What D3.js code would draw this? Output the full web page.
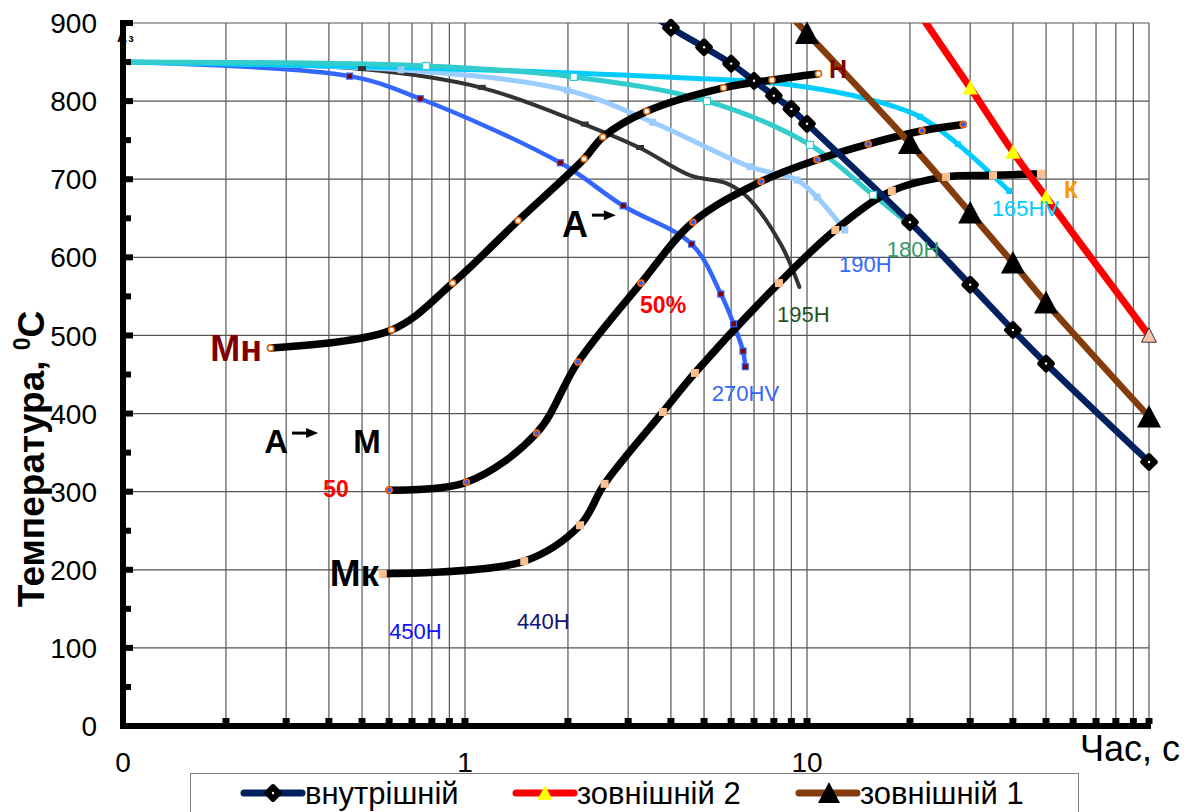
<!DOCTYPE html>
<html><head><meta charset="utf-8">
<script src="https://cdn.jsdelivr.net/npm/d3@7/dist/d3.min.js"></script>
<style>
body{margin:0;background:#fff}
svg{display:block;font-family:Arial,"Liberation Sans",sans-serif}
</style>
</head><body>
<svg id="chart" width="1189" height="812"></svg>
<script>
// ---------------- DATA ----------------
const xTickValues = [0.1, 1, 10];
const xTickText = ["0", "1", "10"];
const yTickValues = [0, 100, 200, 300, 400, 500, 600, 700, 800, 900];
const legendNames = ["внутрішній", "зовнішній 2", "зовнішній 1"];

// surface / inner cooling curves (legend series)
const innerTime = [3.5, 4, 5, 6, 7, 8, 9, 10, 20, 30, 40, 50, 100];
const innerTemp = [912, 894, 869, 848, 826, 807, 790, 771, 645, 565, 507, 464, 338];
const outer2Time = [20, 30, 40, 50, 100];
const outer2Temp = [930, 817, 735, 677, 500];
const outer1Time = [8, 10, 20, 30, 40, 50, 100];
const outer1Temp = [932, 887, 746, 657, 593, 542, 396];

// CCT cooling curves
const c270Time = [0.1, 0.46, 0.74, 1.9, 2.9, 4.6, 5.6, 6.1, 6.5, 6.6];
const c270Temp = [850, 832, 803, 721, 666, 617, 553, 515, 480, 460];
const c195Time = [0.1, 0.5, 1.12, 2.24, 3.25, 4.55, 5.8, 6.7, 8.4, 9.5];
const c195Temp = [850, 841, 817, 770, 740, 705, 695, 677, 616, 562];
const c190Time = [0.1, 0.65, 1.99, 3.54, 6.81, 9.35, 10.7, 12.9];
const c190Temp = [850, 840, 814, 773, 716, 699, 677, 635];
const c180Time = [0.1, 0.77, 2.08, 5.1, 10.2, 15.6, 19.6];
const c180Temp = [850, 845, 831, 800, 744, 680, 645];
const c165Time = [0.1, 0.65, 4.25, 8.9, 15.6, 21.4, 27.6, 39];
const c165Temp = [850, 843, 830, 821, 801, 780, 745, 685];

// transformation curves
const startTime = [0.27, 0.61, 0.92, 1.43, 2.23, 2.53, 3.4, 5.7, 7.9, 10.8];
const startTemp = [484, 507, 567, 647, 726, 754, 787, 817, 827, 835];
const halfTime = [0.6, 1.01, 1.62, 2.14, 3.27, 4.64, 7.34, 10.7, 15.1, 21.7, 28.6];
const halfTemp = [302, 312, 375, 466, 567, 645, 697, 725, 745, 762, 770];
const endTime = [0.575, 1.49, 2.17, 2.56, 3.79, 4.7, 8.28, 12.1, 17.7, 25.5, 35, 48.3];
const endTemp = [195, 211, 257, 310, 402, 452, 567, 635, 685, 703, 705, 707];

// ---------------- CHART ----------------
const svg = d3.select("#chart");
const W = 1189, H = 812;
const x = d3.scaleLog().domain([0.1, 100]).range([123, 1149]);
const y = d3.scaleLinear().domain([0, 900]).range([726, 23]);
const zip = (a, b) => a.map((v, i) => [v, b[i]]);

svg.append("rect").attr("width", W).attr("height", H).attr("fill", "#fff");

svg.append("defs").append("clipPath").attr("id", "clip")
  .append("rect").attr("x", 0).attr("y", y(900)).attr("width", W).attr("height", H);

// small label partly hidden by axis
const a3 = svg.append("text").attr("x", x(0.1) - 6).attr("y", y(900) + 19)
  .attr("font-size", 14).attr("font-weight", "bold").attr("fill", "#000");
a3.append("tspan").text("А");
a3.append("tspan").attr("font-size", 11).attr("dy", 0).attr("dx", 1).text("з");

// grid
const grid = svg.append("g");
const xGrid = x.ticks();
grid.selectAll(".vg").data(xGrid.filter(d => d > 0.1)).join("line")
  .attr("x1", d => x(d)).attr("x2", d => x(d))
  .attr("y1", y(900)).attr("y2", y(0))
  .attr("stroke", "#555").attr("stroke-width", 1.2);
grid.selectAll(".hg").data(yTickValues.filter(d => d > 0)).join("line")
  .attr("x1", x(0.1)).attr("x2", x(100))
  .attr("y1", d => y(d)).attr("y2", d => y(d))
  .attr("stroke", "#555").attr("stroke-width", 1.2);

// line generator
const lineGen = d3.line().x(d => x(d[0])).y(d => y(d[1])).curve(d3.curveCatmullRom.alpha(0.5));
const plot = svg.append("g").attr("clip-path", "url(#clip)");
function drawLine(t, v, color, w) {
  plot.append("path").datum(zip(t, v)).attr("d", lineGen)
    .attr("fill", "none").attr("stroke", color).attr("stroke-width", w)
    .attr("stroke-linejoin", "round").attr("stroke-linecap", "round");
}
const mk = svg.append("g");
function squares(t, v, fill, stroke, s, skipFirst) {
  const pts = zip(t, v).slice(skipFirst ? 1 : 0);
  mk.append("g").selectAll("rect").data(pts).join("rect")
    .attr("x", d => x(d[0]) - s / 2).attr("y", d => y(d[1]) - s / 2)
    .attr("width", s).attr("height", s)
    .attr("fill", fill).attr("stroke", stroke || "none").attr("stroke-width", 1.2);
}
function circles(t, v, fill, stroke, r) {
  mk.append("g").selectAll("circle").data(zip(t, v)).join("circle")
    .attr("cx", d => x(d[0])).attr("cy", d => y(d[1])).attr("r", r)
    .attr("fill", fill).attr("stroke", stroke).attr("stroke-width", 1.6);
}

// cooling curves
drawLine(c270Time, c270Temp, "#3366FF", 4.5);
drawLine(c195Time, c195Temp, "#333333", 4);
drawLine(c190Time, c190Temp, "#99CCFF", 5);
drawLine(c165Time, c165Temp, "#00CCFF", 5);
drawLine(c180Time, c180Temp, "#33CCCC", 5);

squares(c270Time, c270Temp, "#800000", "#3366FF", 6, true);
mk.append("g").selectAll("rect").data(zip(c195Time, c195Temp).slice(1, 5)).join("rect")
  .attr("x", d => x(d[0]) - 4).attr("y", d => y(d[1]) - 3).attr("width", 8).attr("height", 5)
  .attr("fill", "#333");
squares(c190Time, c190Temp, "#99CCFF", null, 7, true);
squares(c180Time, c180Temp, "#fff", "#33CCCC", 7, true);
squares(c165Time.slice(5), c165Temp.slice(5), "#00CCFF", null, 6, false);

// transformation curves
drawLine(startTime, startTemp, "#000", 7.5);
drawLine(halfTime, halfTemp, "#000", 7.5);
drawLine(endTime, endTemp, "#000", 7.5);
circles(startTime, startTemp, "#fff", "#E46C0A", 3);
circles(halfTime, halfTemp, "#2F5DFF", "#FF6600", 3);
squares(endTime, endTemp, "#FAC090", null, 8, false);

// legend series
drawLine(innerTime, innerTemp, "#002060", 6.5);
drawLine(outer1Time, outer1Temp, "#843C0C", 6.5);
drawLine(outer2Time, outer2Temp, "#FF0000", 7);

const diamond = (g, cx, cy) => {
  g.append("rect").attr("x", cx - 7).attr("y", cy - 7).attr("width", 14).attr("height", 14)
    .attr("rx", 2.5).attr("fill", "#000").attr("transform", `rotate(45 ${cx} ${cy})`);
  g.append("circle").attr("cx", cx).attr("cy", cy).attr("r", 1.2).attr("fill", "#fff");
};
const tri = (g, cx, cy, s, fill, stroke) => {
  const h = s * 0.9;
  g.append("path").attr("d", `M${cx},${cy - h / 2 - 1}L${cx + s / 2},${cy + h / 2}L${cx - s / 2},${cy + h / 2}Z`)
    .attr("fill", fill).attr("stroke", stroke || "none").attr("stroke-width", 1);
};
const onChart = d => d[1] <= 900;
zip(innerTime, innerTemp).filter(onChart).forEach(d => diamond(mk, x(d[0]), y(d[1])));
zip(outer1Time, outer1Temp).filter(onChart).forEach(d => tri(mk, x(d[0]), y(d[1]), 24, "#000"));
zip(outer2Time, outer2Temp).filter(onChart).forEach((d, i, arr) =>
  tri(mk, x(d[0]), y(d[1]), 15, i === arr.length - 1 ? "#F8C0A8" : "#FFFF00", i === arr.length - 1 ? "#333" : null));

// axes
const ax = svg.append("g");
ax.append("line").attr("x1", x(0.1)).attr("x2", x(0.1)).attr("y1", y(900) - 3).attr("y2", y(0) + 3)
  .attr("stroke", "#000").attr("stroke-width", 6);
ax.append("line").attr("x1", x(0.1) - 3).attr("x2", x(100) + 2).attr("y1", y(0)).attr("y2", y(0))
  .attr("stroke", "#000").attr("stroke-width", 6);
ax.selectAll(".yt").data(d3.range(50, 950, 50)).join("rect")
  .attr("x", x(0.1)).attr("y", d => y(d) - 3).attr("width", d => d % 100 === 0 ? 10 : 8).attr("height", 6)
  .attr("fill", "#000");
ax.selectAll(".xt").data(xGrid.filter(d => d > 0.1)).join("rect")
  .attr("x", d => x(d) - 3.5).attr("y", y(0) - 8).attr("width", 7).attr("height", 6)
  .attr("fill", "#000");

// tick labels
svg.append("g").selectAll("text").data(yTickValues).join("text")
  .attr("x", 97).attr("y", d => y(d)).attr("dy", "0.36em").attr("text-anchor", "end")
  .attr("font-size", 28).attr("fill", "#000").text(d => d);
svg.append("g").selectAll("text").data(xTickValues).join("text")
  .attr("x", d => x(d)).attr("y", 772).attr("text-anchor", "middle")
  .attr("font-size", 28).attr("fill", "#000").text((d, i) => xTickText[i]);

// axis titles
const yt = svg.append("text").attr("transform", "translate(44,459) rotate(-90)")
  .attr("text-anchor", "middle").attr("font-size", 37).attr("font-weight", "bold").attr("fill", "#000");
yt.append("tspan").text("Температура, ");
yt.append("tspan").attr("font-size", 23).attr("dy", -14).text("0");
yt.append("tspan").attr("dy", 14).text("С");
svg.append("text").attr("x", 1180).attr("y", 761).attr("text-anchor", "end")
  .attr("font-size", 36).attr("fill", "#000").text("Час, с");

// annotations (data coordinates)
const ann = svg.append("g");
function label(t, v, txt, opts) {
  ann.append("text").attr("x", x(t)).attr("y", y(v))
    .attr("text-anchor", opts.anchor || "start").attr("font-size", opts.size)
    .attr("font-weight", opts.bold ? "bold" : "normal").attr("fill", opts.color).text(txt);
}
function arrow(t1, t2, v) {
  const x1 = x(t1), x2 = x(t2), yy = y(v);
  ann.append("line").attr("x1", x1).attr("x2", x2 - 8).attr("y1", yy).attr("y2", yy)
    .attr("stroke", "#000").attr("stroke-width", 3);
  ann.append("path").attr("d", `M${x2},${yy}L${x2 - 12},${yy - 5}L${x2 - 12},${yy + 5}Z`).attr("fill", "#000");
}
label(0.255, 467, "Мн", {anchor: "end", size: 36, bold: true, color: "#800000"});
label(11.6, 830, "Н", {size: 25, bold: true, color: "#800000"});
label(0.561, 179, "Мк", {anchor: "end", size: 37, bold: true, color: "#000"});
label(0.385, 293, "50", {size: 23, bold: true, color: "#FF0000"});
label(3.25, 529, "50%", {size: 23, bold: true, color: "#FF0000"});
label(0.259, 349.5, "А", {size: 33, bold: true, color: "#000"});
arrow(0.312, 0.372, 375);
label(0.471, 349.5, "М", {size: 33, bold: true, color: "#000"});
label(1.92, 626, "А", {size: 36, bold: true, color: "#000"});
arrow(2.35, 2.76, 654);
label(56.4, 676, "К", {size: 23, bold: true, color: "#FF9900"});
label(5.27, 416, "270HV", {size: 22, color: "#3366FF"});
label(8.17, 517, "195H", {size: 22, color: "#1F5223"});
label(12.4, 581, "190H", {size: 22, color: "#3366FF"});
label(17.1, 600.5, "180H", {size: 22, color: "#339966"});
label(34.7, 653, "165HV", {size: 22, color: "#00CCFF"});
label(0.600, 111, "450H", {size: 22, color: "#1010FF"});
label(1.42, 124, "440H", {size: 22, color: "#10107A"});

// legend
const lg = svg.append("g");
lg.append("rect").attr("x", 190.5).attr("y", 773.5).attr("width", 888).attr("height", 60)
  .attr("fill", "#fff").attr("stroke", "#7f7f7f").attr("stroke-width", 1);
const legendColors = ["#002060", "#FF0000", "#843C0C"];
const legendX = [244, 516, 799];
legendNames.forEach((n, i) => {
  const lx = legendX[i], ly = 793;
  lg.append("line").attr("x1", lx).attr("x2", lx + 58).attr("y1", ly).attr("y2", ly)
    .attr("stroke", legendColors[i]).attr("stroke-width", 7).attr("stroke-linecap", "round");
  if (i === 0) diamond(lg, lx + 29, ly);
  else if (i === 1) tri(lg, lx + 29, ly, 15, "#FFFF00");
  else tri(lg, lx + 30, ly, 22, "#000");
  lg.append("text").attr("x", lx + 61).attr("y", ly + 11).attr("font-size", 31)
    .attr("fill", "#000").text(n);
});
</script>
</body></html>
